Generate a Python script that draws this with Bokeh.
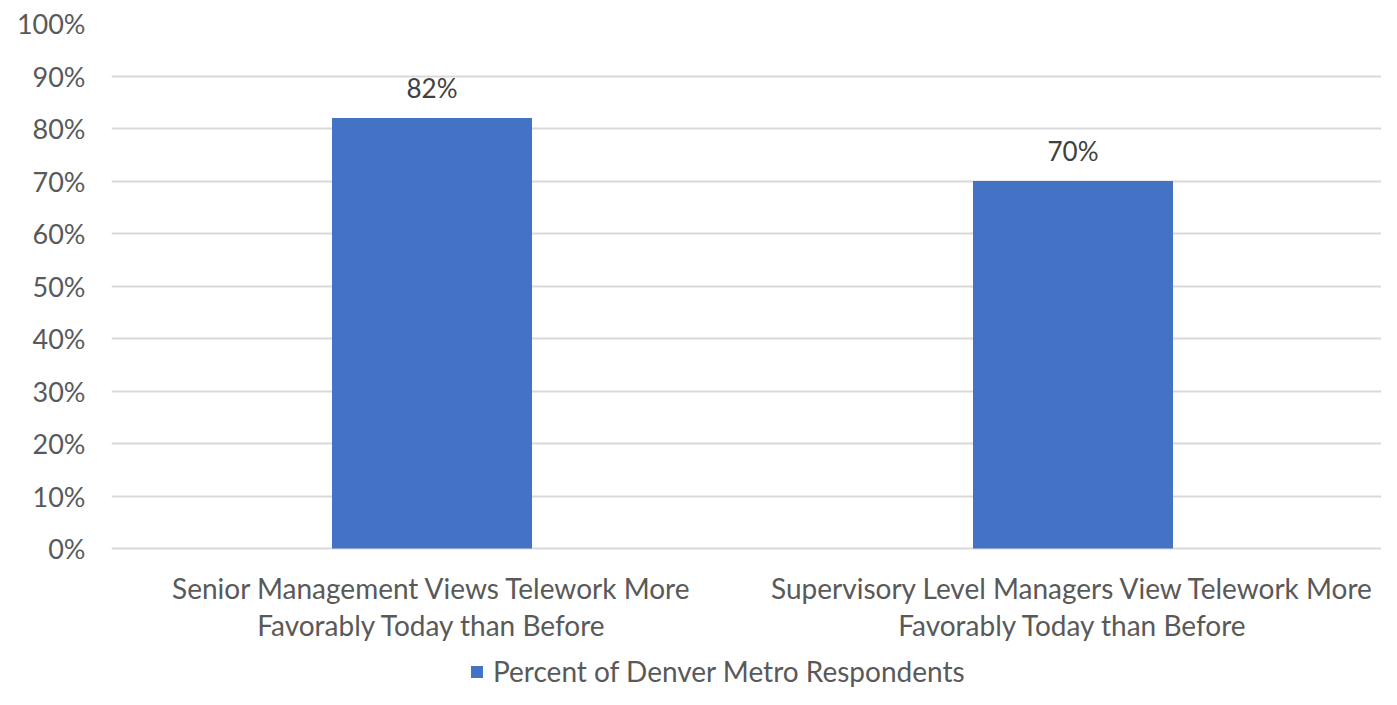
from bokeh.plotting import figure
from bokeh.models import Legend, LegendItem, NumeralTickFormatter, FixedTicker, Range1d, ColumnDataSource
from bokeh.core.properties import value
from bokeh.embed import file_html
from bokeh.resources import INLINE

categories = [
    "Senior Management Views Telework More\nFavorably Today than Before",
    "Supervisory Level Managers View Telework More\nFavorably Today than Before",
]
values = [0.82, 0.70]
value_labels = ["82%", "70%"]
series_name = "Percent of Denver Metro Respondents"
y_ticks = [0.0, 0.1, 0.2, 0.3, 0.4, 0.5, 0.6, 0.7, 0.8, 0.9, 1.0]

FONT = "Lato"
TXT = "#595959"
BAR = "#4472C4"

xpos = [i + 0.5 for i in range(len(categories))]
zeros = [0.0 for _ in categories]
src = ColumnDataSource(dict(x=xpos, val=values, lab=value_labels, cat=categories, zero=zeros))

W, H = 1381, 689
LEFT, TOP = 111, 23
frame_w = W - LEFT
frame_h = H - TOP
px_per_unit = 525.0
x_end = frame_w / 641.0
y_start = -(frame_h - px_per_unit) / px_per_unit

p = figure(x_range=Range1d(0, x_end), y_range=Range1d(y_start, 1), width=W, height=H,
           output_backend="svg", toolbar_location=None,
           min_border_left=LEFT, min_border_top=TOP, min_border_right=0, min_border_bottom=0)
p.outline_line_color = None
p.background_fill_color = "white"
p.border_fill_color = "white"

r = p.vbar(x="x", top="val", width=0.312, source=src, fill_color=BAR, line_color=None)
p.text(x="x", y="val", text="lab", source=src, text_align="center", text_baseline="middle",
       y_offset=-30, text_font=value(FONT), text_font_size="26px", text_color="#404040")
# category labels under the bars
p.text(x="x", y="zero", text="cat", source=src, text_align="center", text_baseline="top",
       y_offset=22, text_font=value(FONT), text_font_size="28px", text_color=TXT,
       text_line_height=1.1)

p.xaxis.visible = False
p.yaxis.ticker = FixedTicker(ticks=y_ticks)
p.yaxis.formatter = NumeralTickFormatter(format="0%")
p.yaxis.axis_line_color = None
p.yaxis.major_tick_line_color = None
p.yaxis.minor_tick_line_color = None
p.yaxis.major_label_text_font = FONT
p.yaxis.major_label_text_font_size = "27px"
p.yaxis.major_label_text_color = TXT
p.yaxis.major_label_standoff = 20

p.xgrid.grid_line_color = None
p.ygrid.grid_line_color = "#d9d9d9"
p.ygrid.grid_line_width = 2
p.ygrid.ticker = FixedTicker(ticks=y_ticks)

legend = Legend(items=[LegendItem(label=series_name, renderers=[r])], location=(358, 1),
                orientation="horizontal", border_line_color=None, background_fill_alpha=0,
                label_text_font=FONT, label_text_font_size="28px", label_text_color=TXT,
                glyph_width=15, glyph_height=15, padding=4, margin=0, label_standoff=9)
p.add_layout(legend, "center")

open("out.html", "w").write(file_html(p, INLINE))
